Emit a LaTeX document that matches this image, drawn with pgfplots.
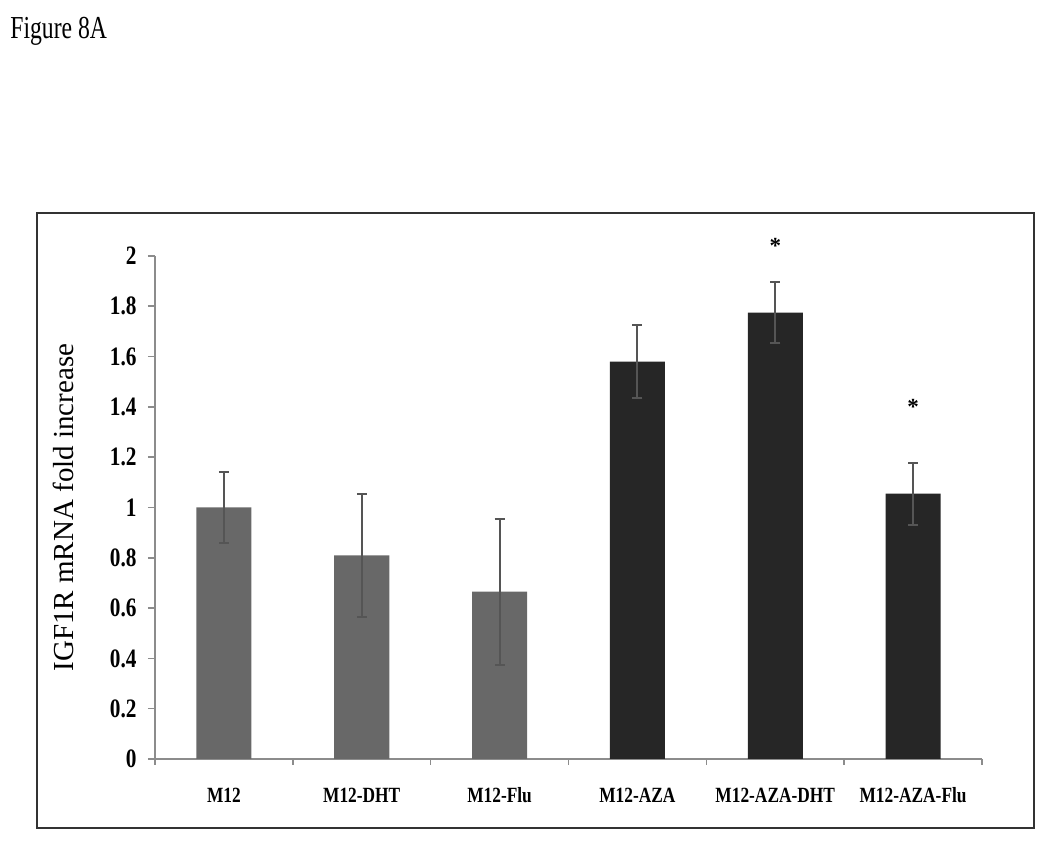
\documentclass[border=0pt]{standalone}
\usepackage{pgfplots}
\pgfplotsset{compat=1.18}
\usepackage{fontspec}
\setmainfont{Liberation Serif}
\newfontfamily\cond[FakeStretch=0.8]{Liberation Serif}
\newfontfamily\titlef[FakeStretch=0.74]{Liberation Serif}
\definecolor{barlight}{HTML}{686868}
\definecolor{bardark}{HTML}{262626}
\definecolor{axisgray}{HTML}{8C8C8C}
\definecolor{errgray}{HTML}{555555}

\begin{document}
\begin{tikzpicture}
% page = 1050 x 845 px, 1px = 0.5pt
\begin{scope}[x=0.5pt,y=0.5pt]
\path (0,0) rectangle (1050,845);
\node[anchor=base west,inner sep=0pt,font=\titlef\fontsize{16}{18}\selectfont] at (10,806) {Figure 8A};
\draw[line width=1pt,black!80] (37,632) rectangle (1034,17);
\end{scope}
\begin{axis}[
  at={(77.5pt,43pt)},anchor=south west,
  scale only axis,width=413.5pt,height=251.5pt,
  xmin=-0.5,xmax=5.5,ymin=0,ymax=2,
  clip=false,
  axis x line*=bottom,axis y line*=left,
  axis line style={axisgray,line width=0.8pt,-},
  tick align=outside,
  major tick length=3.5pt,minor tick length=3pt,
  tick style={axisgray,line width=0.8pt},
  major x tick style={draw=none},
  xtick={0,1,2,3,4,5},
  minor xtick={-0.5,0.5,1.5,2.5,3.5,4.5,5.5},
  xticklabels={M12,M12-DHT,M12-Flu,M12-AZA,M12-AZA-DHT,M12-AZA-Flu},
  ytick={0,0.2,0.4,0.6,0.8,1,1.2,1.4,1.6,1.8,2},
  yticklabels={0,0.2,0.4,0.6,0.8,1,1.2,1.4,1.6,1.8,2},
  xticklabel style={font=\cond\bfseries\fontsize{10.85}{12}\selectfont,anchor=base,inner sep=0pt,yshift=-18.5pt},
  yticklabel style={font=\cond\bfseries\fontsize{13.3}{14}\selectfont,anchor=east,inner sep=0pt,xshift=-5.5pt},
  ylabel={IGF1R mRNA fold increase},
  ylabel style={font=\fontsize{14.5}{16}\selectfont,at={(axis description cs:-0.111,0.5)},anchor=center},
]
\addplot[ybar,bar width=27.5pt,bar shift=0pt,fill=barlight,draw=none,
  error bars/.cd,y dir=both,y explicit,
  error bar style={errgray,line width=1pt},
  error mark options={errgray,line width=1pt,mark size=2.5pt,rotate=90}]
  table[x=x,y=y,y error=e] {
x y e
0 1.00 0.14
1 0.81 0.245
2 0.665 0.29
};
\addplot[ybar,bar width=27.5pt,bar shift=0pt,fill=bardark,draw=none,
  error bars/.cd,y dir=both,y explicit,
  error bar style={errgray,line width=1pt},
  error mark options={errgray,line width=1pt,mark size=2.5pt,rotate=90}]
  table[x=x,y=y,y error=e] {
x y e
3 1.58 0.145
4 1.775 0.12
5 1.055 0.123
};
\node[font=\bfseries\fontsize{11.5}{12}\selectfont] at (axis cs:4,2.042) {*};
\node[font=\bfseries\fontsize{11.5}{12}\selectfont] at (axis cs:5,1.40) {*};
\end{axis}
\end{tikzpicture}
\end{document}
